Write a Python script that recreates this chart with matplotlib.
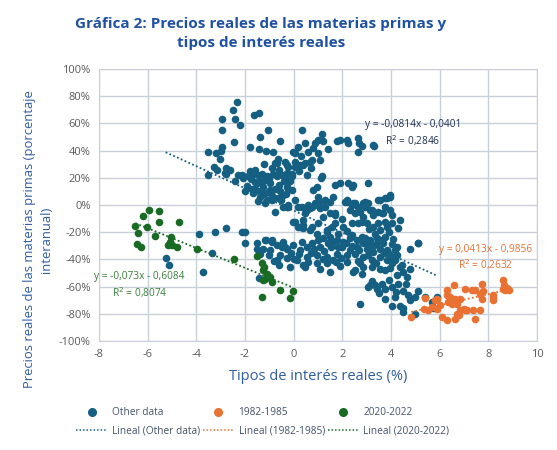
import matplotlib
matplotlib.use("Agg")
import matplotlib.pyplot as plt
import numpy as np
from matplotlib.ticker import PercentFormatter
from matplotlib.lines import Line2D

plt.rcParams['font.family'] = ['Open Sans', 'DejaVu Sans']
plt.rcParams['axes.unicode_minus'] = False

other_pts = [
    # grupo superior izquierdo
    (-2.32, 76), (-2.51, 70), (-2.40, 63), (-2.96, 63), (-2.20, 59), (-2.93, 55),
    (-1.62, 66), (-1.44, 68), (-1.04, 55), (-1.37, 50), (-0.56, 47), (-2.47, 46),
    (-2.96, 43), (-2.99, 40), (-1.79, 43), (-1.43, 41), (-1.14, 40), (-0.84, 39),
    (-3.54, 39), (-3.21, 38), (-3.03, 34), (-0.02, 39), (-0.63, 34), (-0.70, 31),
    (-0.36, 32), (-3.27, 28), (-3.17, 26), (-2.69, 26), (-2.80, 23), (-3.54, 22),
    (-2.28, 22), (-2.07, 20), (-1.80, 25), (-1.59, 26), (-1.32, 23), (-1.11, 21),
    (-1.39, 18), (-1.52, 16), (-0.77, 31), (-0.29, 29.5), (0.05, 32), (0.40, 29.5),
    (0.67, 32), (1.08, 33), (-2.14, 22), (-1.87, 21), (-1.66, 23), (-1.46, 22),
    (-1.59, 17), (-1.18, 18.5), (-0.98, 16), (-0.70, 21), (-0.49, 22), (-0.29, 22),
    (-0.08, 23), (-0.84, 23), (-1.59, 12), (-1.39, 10), (-1.18, 8.6), (-0.98, 11),
    (-0.77, 12), (-0.56, 10), (-0.84, 6), (-0.63, 5), (-0.43, 7.4), (-0.22, 12),
    (-1.66, 8.6), (-1.39, 6), (-1.11, 3.7), (-0.77, -5), (-0.43, -1.2), (-0.22, -1.2),
    (-1.90, 14), (-2.00, 10), (-1.75, 19), (-1.25, 13), (-0.60, 15), (-0.40, 18),
    (-0.90, 27), (-1.20, 30), (-2.76, 27), (-2.62, 26), (-2.83, 23.4),
    (-1.70, 12), (-1.45, 3), (-0.95, 8), (-0.50, 4), (-0.30, 8), (-1.30, 16),
    (-0.60, 26), (-0.15, 18), (-1.00, 19), (-2.40, 18),
    # grupo superior central
    (0.33, 55), (1.15, 52), (1.01, 48), (1.22, 47), (0.88, 45.5), (1.77, 47),
    (1.91, 48), (2.18, 48), (2.25, 45.5), (2.63, 49), (2.69, 45.5), (3.28, 44),
    (2.66, 39), (1.40, 41), (0.47, 45.5), (0.57, 39), (0.19, 43), (0.05, 38),
    (1.01, 38), (0.74, 33), (0.47, 31), (-0.22, 28), (0.05, 28), (0.26, 29.5),
    (-0.29, 23.4), (-0.08, 21), (-0.22, 17), (-0.29, 13.5), (1.12, 20), (-0.08, 11),
    (0.81, 11), (1.70, 15), (2.25, 16), (2.39, 13.5), (3.07, 16.5), (1.91, 16),
    (2.45, 14.8), (3.30, 43.5), (2.79, 43.5), (1.15, 21), (0.95, 13.5), (1.01, 6),
    (1.08, 2.4), (0.88, 1.2), (0.74, -1.2), (0.53, -3.7), (0.47, -6), (1.08, -2.4),
    (1.29, -1.2), (1.49, 2.4), (1.70, -6), (1.63, 6), (0.60, 0), (1.29, 3.7),
    (2.18, 3.7), (2.39, 0), (2.66, -1.2), (2.93, -1.2), (3.48, 3.7), (3.75, 4.9),
    (3.96, 6), (0.05, 3.7), (-0.22, 0), (0.33, -1.2), (2.18, 2.4), (2.45, 1.2),
    (2.86, 1.2), (3.55, 3.7), (3.75, -1.2), (2.11, 2.4), (2.52, 1.2), (2.93, 2.4),
    (3.07, 1.2), (3.83, 4.9), (3.96, 7.4), (-1.18, 1.2), (-0.91, 3.7), (-0.29, -1.2),
    (0.20, 25), (0.55, 22), (0.30, 36), (0.80, 42), (0.70, 27),
    # diagonal central
    (0.19, -1.2), (0.95, 0), (1.70, -7.4), (3.21, -3.7), (3.62, -6), (4.03, -7.4),
    (4.37, -11), (0.05, -12.3), (0.40, -14.8), (0.74, -16), (1.01, -13.5),
    (1.36, -18.5), (2.39, -13.5), (2.80, -12.3), (3.48, -13.5), (3.83, -16),
    (1.84, -21), (2.39, -22), (2.80, -23.4), (3.35, -21), (3.76, -23.4), (4.03, -28.3),
    (4.17, -33), (1.49, -6), (1.70, -13.5), (2.04, -16), (2.32, -3.7), (2.52, -6),
    (2.73, -4.9), (2.86, -8.6), (3.14, -3.7), (3.28, -7.4), (3.48, -4.9), (3.69, -6),
    (3.96, -3.7), (3.76, -12.3), (4.03, -13.5), (2.66, -13.5), (3.00, -13.5),
    (3.28, -16), (3.55, -18.5), (-0.02, -12.3), (0.19, -16), (0.40, -17),
    (0.67, -18.5), (0.95, -21), (1.36, -19.7), (1.56, -16), (0.40, -11), (0.26, -16),
    (0.67, -2.4), (1.20, -9), (2.00, -10), (2.20, -19), (3.10, -18), (3.90, -20),
    (4.30, -17),
    # banda inferior
    (-0.36, -31), (-1.18, -26), (-0.91, -26), (-1.25, -32), (-0.98, -33), (-0.70, -29.5),
    (-0.49, -31), (-0.29, -32), (-0.02, -29.5), (0.26, -33), (0.53, -31), (0.74, -28),
    (1.01, -26), (1.22, -24.6), (1.42, -28), (1.63, -27), (1.84, -31), (-0.56, -37),
    (-0.29, -39), (0.12, -40.6), (0.53, -38), (0.95, -37), (1.36, -38), (1.63, -40.6),
    (-0.15, -45.5), (0.40, -44), (0.95, -43), (1.36, -43), (1.49, -23.4), (1.77, -25.8),
    (2.04, -27), (2.32, -24.6), (2.59, -25.8), (2.86, -28), (3.14, -25.8), (3.41, -24.6),
    (3.69, -28), (3.00, -32), (3.28, -34.4), (3.55, -32), (3.83, -33), (4.24, -31),
    (4.79, -32), (5.13, -28), (1.77, -35.7), (2.18, -37), (2.52, -35.7), (2.86, -38),
    (3.21, -40.6), (3.55, -38), (3.83, -40.6), (4.17, -40.6), (4.37, -45.5),
    (4.79, -46.7), (3.76, -48), (2.52, -48), (2.86, -45.5), (1.49, -49), (2.80, -50.4),
    (0.47, -45.5), (4.23, -37), (4.03, -43), (4.44, -44), (4.51, -49), (4.65, -53),
    (4.23, -51.7), (3.55, -46.7), (3.21, -45.5), (2.45, -49), (2.73, -43), (5.09, -28),
    (-1.50, -28), (-1.40, -36), (-0.80, -41), (0.70, -35), (1.10, -31), (2.00, -31),
    (2.40, -30), (2.70, -33), (3.00, -28), (3.40, -29), (3.90, -36), (2.20, -42),
    (1.90, -45), (1.10, -47), (0.20, -36), (-0.60, -44), (-1.14, -25.8), (-0.88, -27.1),
    (-1.52, -32), (-0.70, -40.6), (-1.42, -54),
    (-0.10, -35), (0.35, -27), (0.85, -32), (1.25, -34), (1.55, -31), (1.95, -39),
    (2.30, -33), (2.65, -41), (3.05, -37), (3.40, -43), (3.70, -35), (4.05, -38),
    (-0.45, -27), (0.60, -42), (1.75, -42), (2.15, -28), (2.95, -24), (3.25, -30),
    (3.60, -26), (4.10, -25), (0.00, -40), (-1.00, -37), (1.20, -40), (2.60, -31),
    (3.95, -46),
    # puntos aislados a la izquierda
    (-3.90, -21), (-3.24, -20), (-2.80, -17), (-2.14, -20), (-1.98, -20), (-1.98, -28),
    (-3.37, -35), (-5.26, -39), (-5.13, -44), (-3.72, -49),
    # grupo inferior derecho
    (3.07, -60), (3.35, -59), (3.62, -58), (3.76, -61.5), (4.03, -60), (4.30, -58),
    (4.51, -63), (3.76, -69), (4.17, -68), (4.37, -74), (2.73, -72.5), (4.03, -74),
    (4.51, -76), (4.79, -70), (4.99, -68), (5.13, -63), (5.40, -68), (5.68, -71),
    (5.88, -68), (5.74, -76), (4.99, -80), (4.51, -79), (3.20, -56), (3.90, -55),
    (4.60, -58), (4.20, -64), (4.70, -66), (3.50, -65), (3.14, -59), (3.41, -61.5),
]

p8285_pts = [
    (4.83, -82.4), (5.40, -68.1), (5.36, -76.2), (5.54, -77.5), (5.68, -75.1),
    (5.88, -76.2), (6.02, -73.8), (5.81, -70.1), (5.88, -68.9), (6.09, -82.4),
    (6.29, -84.4), (6.64, -83.6), (6.70, -79.9), (6.84, -77.5), (7.04, -77),
    (7.46, -83.6), (7.39, -77.5), (7.66, -77.5), (6.29, -62.7), (6.29, -66.4),
    (6.43, -67.7), (6.57, -70.1), (6.64, -68.9), (6.84, -68.9), (6.36, -71.3),
    (6.50, -72.5), (6.70, -73.1), (6.60, -59), (7.04, -61.5), (7.32, -62.2),
    (7.46, -62.2), (7.73, -57.8), (7.80, -63.2), (7.73, -68.9), (7.66, -65.2),
    (8.19, -66.4), (8.21, -70.1), (8.19, -67.7), (8.62, -55.4), (8.65, -59),
    (8.60, -61.5), (8.83, -62.2), (8.76, -60.7), (8.69, -62.7), (6.98, -76.2),
    (7.11, -77.5), (6.81, -81.2),
]

p2022_pts = [
    (-5.94, -3.7), (-5.53, -4.4), (-6.21, -8.1), (-5.54, -12.3), (-4.72, -12.3),
    (-6.50, -15.3), (-6.02, -16), (-6.38, -20.9), (-5.70, -22.7), (-5.06, -23.8),
    (-5.08, -27.5), (-4.98, -29.5), (-4.79, -30.8), (-5.15, -29.5), (-6.44, -28.3),
    (-6.28, -31.2), (-3.99, -32.5), (-2.44, -39.9), (-1.52, -37.6), (-1.32, -43),
    (-1.21, -45.5), (-1.28, -48), (-1.11, -50.4), (-0.98, -52.9), (-1.18, -54.1),
    (-0.91, -56.6), (-1.25, -55.4), (-0.56, -62.2), (-0.04, -63.5), (-0.15, -68.4),
    (-1.29, -67.4),
]

series_names = ['Other data', '1982-1985', '2020-2022']
series_colors = ['#156082', '#e97132', '#196b24']
label_colors = ['#1f3050', '#e97132', '#3c7f3c']
# coeficientes de las lineas de tendencia mostradas en el grafico
slopes = [-0.0814, 0.0413, -0.073]
intercepts = [-0.0401, -0.9856, -0.6084]
r2_vals = [0.2846, 0.2632, 0.8074]
eq_pos = [(4.9, 0.525), (7.87, -0.39), (-6.33, -0.593)]


def fmt(v):
    return f'{v}'.replace('.', ',')


fig = plt.figure(figsize=(5.57, 4.5), dpi=100)
ax = fig.add_axes([0.1777, 0.2422, 0.7864, 0.6044])

all_series = [other_pts, p8285_pts, p2022_pts]
handles = []
for pts, name, col, m, b, r2, pos, lc in zip(all_series, series_names, series_colors,
                                                slopes, intercepts, r2_vals, eq_pos,
                                                label_colors):
    xs = np.array([p[0] for p in pts])
    ys = np.array([p[1] for p in pts]) / 100
    ax.scatter(xs, ys, s=30, color=col, linewidths=0, zorder=3)
    xl = np.array([xs.min(), xs.max()])
    ax.plot(xl, m * xl + b, linestyle=(0, (1, 1.3)), color=col, linewidth=1.3, zorder=4)
    sign = '-' if b < 0 else '+'
    ax.text(pos[0], pos[1], f'y = {fmt(m)}x {sign} {fmt(abs(b))}\nR$^2$ = {fmt(r2)}',
            ha='center', va='center', fontsize=7.3, color=lc, linespacing=1.25, zorder=5)
    handles.append(Line2D([], [], marker='o', linestyle='none', color=col, markersize=5.5,
                          label=name))
    handles.append(Line2D([], [], linestyle=(0, (1, 1.3)), color=col, linewidth=1.1,
                          label=f'Lineal ({name})'))

ax.set_xlim(-8, 10)
ax.set_ylim(-1, 1)
ax.set_xticks(np.arange(-8, 11, 2))
ax.set_yticks(np.round(np.linspace(-1, 1, 11), 1) + 0.0)
ax.yaxis.set_major_formatter(PercentFormatter(1.0, decimals=0))
ax.grid(True, color='#c8d0da', linewidth=1.0, zorder=0)
ax.set_axisbelow(True)
for s in ax.spines.values():
    s.set_color('#c8d0da')
ax.tick_params(length=0, labelsize=8, labelcolor='#5a5a5a', pad=6)

ax.set_xlabel('Tipos de interés reales (%)', fontsize=10.5, color='#2f5d9f', labelpad=6)
fig.text(0.068, 0.468, 'Precios reales de las materias primas (porcentaje\ninteranual)',
         rotation=90, ha='center', va='center', fontsize=9.4, color='#2f5d9f',
         linespacing=1.45)

fig.text(0.468, 0.925, 'Gráfica 2: Precios reales de las materias primas y\ntipos de interés reales',
         ha='center', va='center', fontsize=11, fontweight='bold', color='#1f51a3',
         linespacing=1.45)

fig.legend(handles=handles, ncol=3, loc='center', bbox_to_anchor=(0.472, 0.062),
           frameon=False, fontsize=7.3, labelcolor='#44546a', handlelength=3.0,
           handletextpad=0.5, columnspacing=0.3, labelspacing=0.75)

fig.savefig('out.png', dpi=100)
